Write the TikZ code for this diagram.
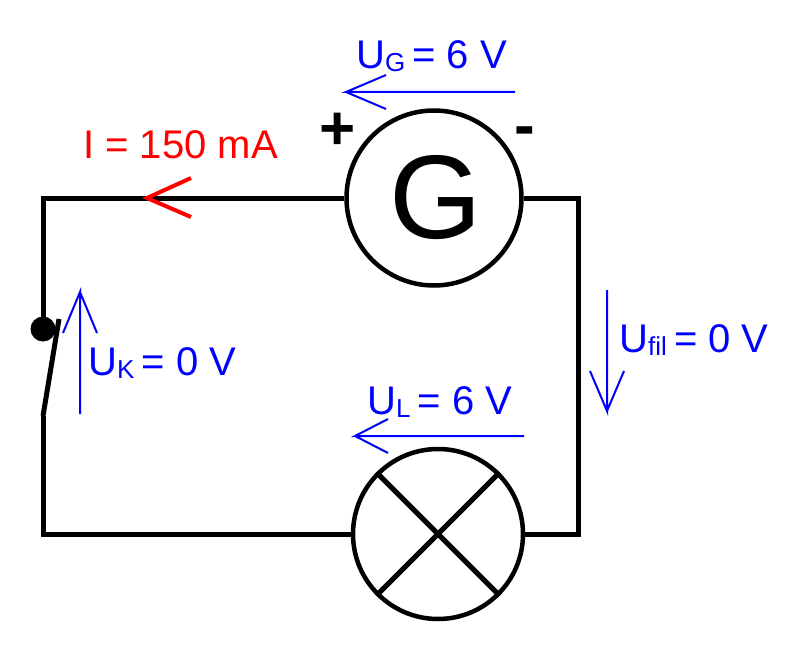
\documentclass[tikz,border=0pt]{standalone}
\usepackage{fontspec}
\setmainfont{Liberation Sans}
\tikzset{
  wire/.style={line width=5pt,black},
  uarrow/.style={blue,line width=2pt},
  ulabel/.style={blue,font=\fontsize{40}{40}\selectfont,inner sep=0pt,anchor=base west},
  polarity/.style={font=\bfseries\fontsize{62}{62}\selectfont,inner sep=0pt},
}
\newcommand{\usub}[1]{\raisebox{-3pt}{\fontsize{26}{26}\selectfont #1\ }}
\begin{document}
\begin{tikzpicture}[x=1pt,y=-1pt,line join=miter]
  \useasboundingbox (0,0) rectangle (800,650);

  % Generator and lamp
  \node[circle,draw,line width=4.5pt,minimum size=175pt,inner sep=0pt,font=\fontsize{119}{119}\selectfont] (gen) at (434,198) {\hspace{3pt}G};
  \node[circle,draw,line width=4.5pt,minimum size=170pt,inner sep=0pt] (lamp) at (438,534) {};
  \draw[wire] (lamp.45) -- (lamp.225);
  \draw[wire] (lamp.135) -- (lamp.315);

  % Wires
  \coordinate (topleft) at (43,198);
  \coordinate (botleft) at (43,534);
  \coordinate (topright) at (578,198);
  \coordinate (botright) at (578,534);
  \coordinate (contact) at (43,329);
  \coordinate (hinge) at (43,416);
  \coordinate (blade) at (59,319);
  \draw[wire] (gen.west) -- (topleft) -- (contact);
  \draw[wire] (hinge) -- (botleft) -- (lamp.west);
  \draw[wire] (gen.east) -- (topright) -- (botright) -- (lamp.east);
  \draw[wire] (hinge) -- (blade);
  \fill (contact) circle (12.5pt);

  % Current
  \coordinate (itip) at (147,198);
  \draw[red,line width=4pt] (191,178) -- (itip) -- (191,217);
  \node[red,font=\fontsize{40}{40}\selectfont,inner sep=0pt,anchor=base west] (current) at (83,158) {I = 150 mA};

  % Polarity
  \node[polarity] (plus) at (338,131) {+};
  \node[polarity] (minus) at (525,137) {-};

  % Voltages
  \coordinate (ugs) at (515,92);
  \coordinate (uge) at (346,92);
  \draw[uarrow] (ugs) -- (uge) -- (386,75) (uge) -- (386,109);
  \node[ulabel] (ug) at (356,69) {U\usub{G}= 6 V};

  \coordinate (uls) at (524,436);
  \coordinate (ule) at (355,436);
  \draw[uarrow] (uls) -- (ule) -- (388,419) (ule) -- (388,453);
  \node[ulabel] (ul) at (367,414) {U\usub{L}= 6 V};

  \coordinate (ufs) at (607,290);
  \coordinate (ufe) at (607,411);
  \draw[uarrow] (ufs) -- (ufe) -- (590,371) (ufe) -- (624,371);
  \node[ulabel] (uf) at (619,352) {U\usub{fil}= 0 V};

  \coordinate (uks) at (80,414);
  \coordinate (uke) at (80,292);
  \draw[uarrow] (uks) -- (uke) -- (63,333) (uke) -- (97,333);
  \node[ulabel] (uk) at (88,375) {U\usub{K}= 0 V};
\end{tikzpicture}
\end{document}
